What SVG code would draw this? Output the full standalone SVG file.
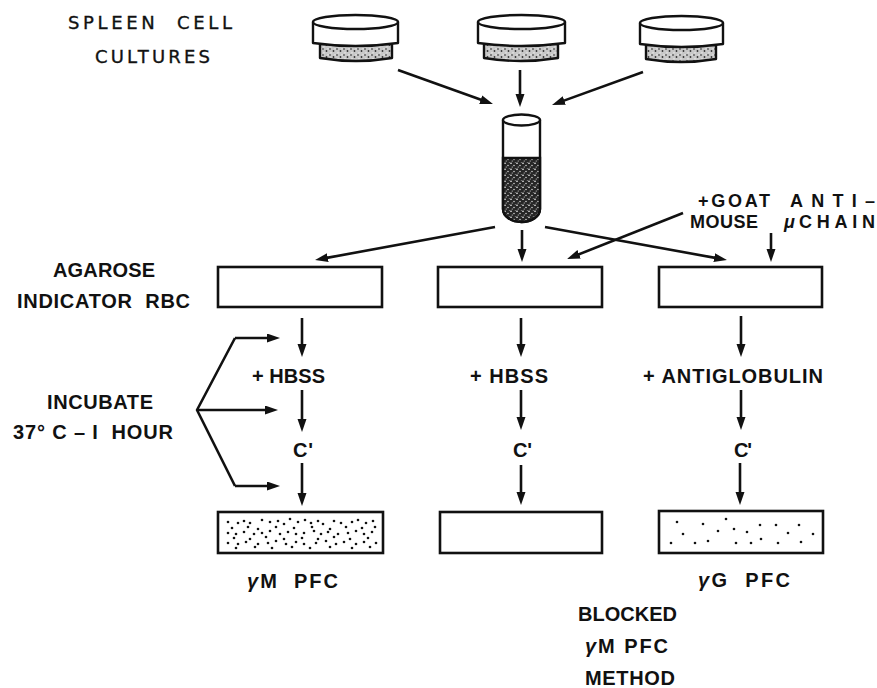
<svg xmlns="http://www.w3.org/2000/svg" width="877" height="688" viewBox="0 0 877 688">
<defs>
<style>
.t{font-family:"Liberation Sans",Arial,sans-serif;font-weight:bold;font-size:20px;fill:#111}
.tg{font-family:"Liberation Sans",Arial,sans-serif;font-weight:bold;font-size:18px;fill:#111}
.tl{font-family:"DejaVu Sans",Verdana,sans-serif;font-weight:normal;font-size:18px;fill:#111;stroke:#111;stroke-width:0.35}
.ln{stroke:#111;stroke-width:2.6;fill:none;marker-end:url(#ah)}
.br{stroke:#111;stroke-width:2.6;fill:none;stroke-linejoin:round}
.box{fill:#fff;stroke:#111;stroke-width:2.6}
.sh{stroke:#111;stroke-width:2.4;fill:#fff;stroke-linejoin:round}
.dot{fill:#111}
</style>
<marker id="ah" markerUnits="userSpaceOnUse" markerWidth="14" markerHeight="10" refX="4" refY="4.5" orient="auto">
<path d="M0,0 L13,4.5 L0,9 Z" fill="#111"/>
</marker>
<pattern id="ds" patternUnits="userSpaceOnUse" width="7" height="6">
<rect width="7" height="6" fill="#c8c8c8"/>
<circle cx="1" cy="1" r="0.8" fill="#222"/>
<circle cx="4.5" cy="3" r="0.9" fill="#333"/>
<circle cx="2" cy="4.8" r="0.6" fill="#fff"/>
<circle cx="6" cy="0.8" r="0.6" fill="#fff"/>
</pattern>
<pattern id="ts" patternUnits="userSpaceOnUse" width="6" height="6">
<rect width="6" height="6" fill="#262626"/>
<circle cx="1" cy="1.2" r="0.8" fill="#fff"/>
<circle cx="4" cy="3.5" r="0.7" fill="#eee"/>
<circle cx="2.2" cy="5" r="0.5" fill="#fff"/>
<circle cx="5.2" cy="0.5" r="0.45" fill="#ddd"/>
</pattern>
</defs>
<rect width="877" height="688" fill="#fff"/>

<g id="labels-left">
<text class="tl" x="68" y="29" textLength="164" lengthAdjust="spacing" xml:space="preserve">SPLEEN  CELL</text>
<text class="tl" x="95" y="63" textLength="115" lengthAdjust="spacing">CULTURES</text>
<text class="t" x="53" y="277" textLength="102" lengthAdjust="spacing">AGAROSE</text>
<text class="t" x="17" y="308" textLength="173" lengthAdjust="spacing" xml:space="preserve">INDICATOR  RBC</text>
<text class="t" x="47" y="409" textLength="106" lengthAdjust="spacing">INCUBATE</text>
<text class="t" x="13" y="439" textLength="160" lengthAdjust="spacing" xml:space="preserve">37° C – I  HOUR</text>
</g>

<g id="dish-1">
<path class="sh" d="M320,44 L320,58 Q356,64 392,58 L392,44 Z" style="fill:url(#ds)"/>
<path class="sh" d="M313,22 L313,43 Q355.5,49 398,43 L398,22 Z"/>
<ellipse class="sh" cx="355.5" cy="22" rx="42.5" ry="7"/>
</g>
<g id="dish-2">
<path class="sh" d="M484,44 L484,58 Q521,64 558,58 L558,44 Z" style="fill:url(#ds)"/>
<path class="sh" d="M478,22 L478,43 Q521.5,49 565,43 L565,22 Z"/>
<ellipse class="sh" cx="521.5" cy="22" rx="43.5" ry="7"/>
</g>
<g id="dish-3">
<path class="sh" d="M646,45 L646,59 Q681,65 716,59 L716,45 Z" style="fill:url(#ds)"/>
<path class="sh" d="M640,23 L640,44 Q681.5,50 723,44 L723,23 Z"/>
<ellipse class="sh" cx="681.5" cy="23" rx="41.5" ry="7"/>
</g>

<g id="tube">
<path class="sh" d="M503,120 L503,209 A18.5,13 0 0 0 540,209 L540,120 Z"/>
<path d="M503,158 L503,209 A18.5,13 0 0 0 540,209 L540,158 Z" style="fill:url(#ts)" stroke="#111" stroke-width="2.4"/>
<ellipse class="sh" cx="521.5" cy="120" rx="18.5" ry="5.5"/>
</g>

<g id="goat-label">
<text class="tg" x="698" y="206.5" textLength="72" lengthAdjust="spacing">+GOAT</text>
<text class="tg" x="790" y="206.5" textLength="85" lengthAdjust="spacing">ANTI–</text>
<text class="tg" x="690" y="227.5" textLength="68" lengthAdjust="spacing">MOUSE</text>
<text class="tg" x="784" y="227.5" font-style="italic">μ</text>
<text class="tg" x="799" y="227.5" textLength="76" lengthAdjust="spacing">CHAIN</text>
</g>

<g id="box-1a"><rect class="box" x="218" y="267" width="164" height="40"/></g>
<g id="box-2a"><rect class="box" x="438" y="267" width="164" height="40"/></g>
<g id="box-3a"><rect class="box" x="659" y="267" width="163" height="40"/></g>

<g id="step-labels">
<text class="t" x="252" y="383" textLength="73" lengthAdjust="spacing">+ HBSS</text>
<text class="t" x="470" y="383" textLength="78" lengthAdjust="spacing">+ HBSS</text>
<text class="t" x="643" y="383" textLength="180" lengthAdjust="spacing">+ ANTIGLOBULIN</text>
<text class="t" x="293" y="457" textLength="20" lengthAdjust="spacing">C'</text>
<text class="t" x="513" y="457" textLength="19" lengthAdjust="spacing">C'</text>
<text class="t" x="734" y="457" textLength="18" lengthAdjust="spacing">C'</text>
</g>

<g id="box-1b">
<rect class="box" x="218" y="512" width="165" height="41"/>
<g class="dot">
<circle cx="228" cy="522" r="1.3"/><circle cx="238" cy="523" r="1.3"/><circle cx="244" cy="521" r="1.3"/><circle cx="250" cy="523" r="1.3"/><circle cx="262" cy="520" r="1.3"/><circle cx="270" cy="522" r="1.3"/><circle cx="278" cy="521" r="1.3"/><circle cx="284" cy="524" r="1.3"/><circle cx="290" cy="519" r="1.3"/><circle cx="298" cy="522" r="1.3"/><circle cx="305" cy="520" r="1.3"/><circle cx="311" cy="523" r="1.3"/><circle cx="318" cy="521" r="1.3"/><circle cx="323" cy="524" r="1.3"/><circle cx="334" cy="521" r="1.3"/><circle cx="341" cy="523" r="1.3"/><circle cx="352" cy="522" r="1.3"/><circle cx="358" cy="520" r="1.3"/><circle cx="366" cy="523" r="1.3"/><circle cx="373" cy="521" r="1.3"/>
<circle cx="232" cy="528" r="1.3"/><circle cx="248" cy="527" r="1.3"/><circle cx="258" cy="529" r="1.3"/><circle cx="276" cy="527" r="1.3"/><circle cx="294" cy="528" r="1.3"/><circle cx="312" cy="527" r="1.3"/><circle cx="330" cy="529" r="1.3"/><circle cx="346" cy="527" r="1.3"/><circle cx="362" cy="528" r="1.3"/><circle cx="375" cy="527" r="1.3"/>
<circle cx="228" cy="533" r="1.3"/><circle cx="236" cy="534" r="1.3"/><circle cx="244" cy="532" r="1.3"/><circle cx="254" cy="534" r="1.3"/><circle cx="262" cy="533" r="1.3"/><circle cx="270" cy="531" r="1.3"/><circle cx="280" cy="534" r="1.3"/><circle cx="288" cy="532" r="1.3"/><circle cx="296" cy="534" r="1.3"/><circle cx="304" cy="533" r="1.3"/><circle cx="314" cy="531" r="1.3"/><circle cx="321" cy="534" r="1.3"/><circle cx="328" cy="532" r="1.3"/><circle cx="338" cy="534" r="1.3"/><circle cx="348" cy="533" r="1.3"/><circle cx="356" cy="531" r="1.3"/><circle cx="364" cy="534" r="1.3"/><circle cx="372" cy="532" r="1.3"/>
<circle cx="234" cy="538" r="1.3"/><circle cx="250" cy="539" r="1.3"/><circle cx="266" cy="537" r="1.3"/><circle cx="284" cy="539" r="1.3"/><circle cx="302" cy="538" r="1.3"/><circle cx="318" cy="539" r="1.3"/><circle cx="334" cy="537" r="1.3"/><circle cx="350" cy="539" r="1.3"/><circle cx="368" cy="538" r="1.3"/>
<circle cx="228" cy="543" r="1.3"/><circle cx="238" cy="544" r="1.3"/><circle cx="246" cy="542" r="1.3"/><circle cx="258" cy="544" r="1.3"/><circle cx="268" cy="543" r="1.3"/><circle cx="276" cy="541" r="1.3"/><circle cx="286" cy="544" r="1.3"/><circle cx="296" cy="542" r="1.3"/><circle cx="304" cy="544" r="1.3"/><circle cx="316" cy="543" r="1.3"/><circle cx="326" cy="541" r="1.3"/><circle cx="336" cy="544" r="1.3"/><circle cx="344" cy="542" r="1.3"/><circle cx="356" cy="544" r="1.3"/><circle cx="364" cy="542" r="1.3"/><circle cx="376" cy="543" r="1.3"/>
<circle cx="236" cy="548" r="1.3"/><circle cx="255" cy="547" r="1.3"/><circle cx="272" cy="548" r="1.3"/><circle cx="292" cy="547" r="1.3"/><circle cx="310" cy="548" r="1.3"/><circle cx="330" cy="547" r="1.3"/><circle cx="352" cy="548" r="1.3"/><circle cx="370" cy="547" r="1.3"/>
</g>
</g>
<g id="box-2b"><rect class="box" x="440" y="512" width="162" height="41"/></g>
<g id="box-3b">
<rect class="box" x="659" y="511" width="164" height="42"/>
<g class="dot">
<circle cx="677" cy="522" r="1.3"/><circle cx="703" cy="524" r="1.3"/><circle cx="726" cy="519" r="1.3"/><circle cx="683" cy="534" r="1.3"/><circle cx="718" cy="531" r="1.3"/><circle cx="734" cy="529" r="1.3"/><circle cx="747" cy="532" r="1.3"/><circle cx="760" cy="525" r="1.3"/><circle cx="776" cy="525" r="1.3"/><circle cx="799" cy="525" r="1.3"/><circle cx="788" cy="533" r="1.3"/><circle cx="813" cy="534" r="1.3"/><circle cx="671" cy="543" r="1.3"/><circle cx="695" cy="543" r="1.3"/><circle cx="708" cy="541" r="1.3"/><circle cx="736" cy="543" r="1.3"/><circle cx="751" cy="543" r="1.3"/><circle cx="761" cy="539" r="1.3"/><circle cx="778" cy="543" r="1.3"/><circle cx="801" cy="542" r="1.3"/>
</g>
</g>

<g id="result-labels">
<text class="t" x="247" y="588" textLength="91" lengthAdjust="spacing" xml:space="preserve"><tspan font-style="italic">γ</tspan>M  PFC</text>
<text class="t" x="698" y="587" textLength="92" lengthAdjust="spacing" xml:space="preserve"><tspan font-style="italic">γ</tspan>G  PFC</text>
<text class="t" x="578" y="621" textLength="99" lengthAdjust="spacing">BLOCKED</text>
<text class="t" x="585" y="653" textLength="83" lengthAdjust="spacing"><tspan font-style="italic">γ</tspan>M PFC</text>
<text class="t" x="585" y="685" textLength="90" lengthAdjust="spacing">METHOD</text>
</g>

<g id="connectors">
<line class="ln" x1="398" y1="70" x2="484.5" y2="101"/>
<line class="ln" x1="520" y1="70" x2="520" y2="98"/>
<line class="ln" x1="643" y1="72" x2="560.5" y2="101.9"/>
<line class="ln" x1="495" y1="227" x2="323.9" y2="258.4"/>
<line class="ln" x1="522" y1="230" x2="522" y2="253"/>
<line class="ln" x1="545" y1="227" x2="718.1" y2="258.4"/>
<line class="ln" x1="683" y1="213" x2="575.4" y2="255.7"/>
<line class="ln" x1="771" y1="233" x2="771" y2="253"/>
<line class="ln" x1="302" y1="318" x2="302" y2="348"/>
<line class="ln" x1="302" y1="390" x2="302" y2="423"/>
<line class="ln" x1="302" y1="463" x2="302" y2="497"/>
<line class="ln" x1="521" y1="318" x2="521" y2="348"/>
<line class="ln" x1="521" y1="390" x2="521" y2="421"/>
<line class="ln" x1="521" y1="465" x2="521" y2="496"/>
<line class="ln" x1="741" y1="316" x2="741" y2="348"/>
<line class="ln" x1="741" y1="390" x2="741" y2="421"/>
<line class="ln" x1="740" y1="463" x2="740" y2="496"/>
<path class="br" d="M235,338 L197,410 L235,486"/>
<path class="ln" d="M235,338 L271,338"/>
<path class="ln" d="M197,410 L269,410"/>
<path class="ln" d="M235,486 L271,486"/>
</g>
</svg>
